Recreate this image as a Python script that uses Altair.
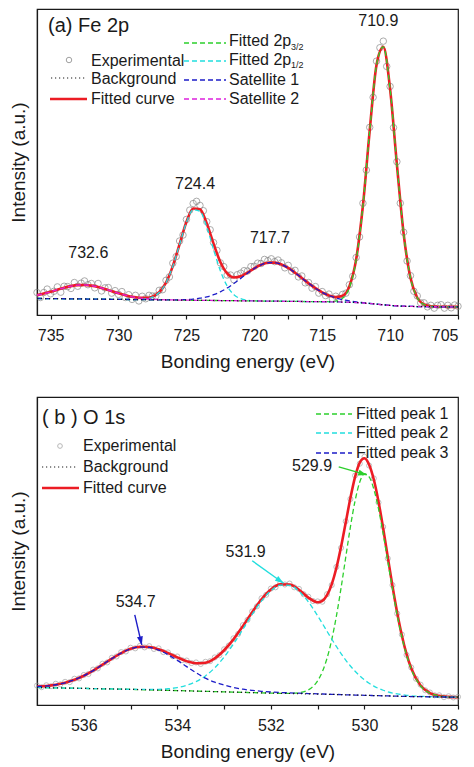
import altair as alt
import pandas as pd

FONT = "Liberation Sans"
RED = "#ec1c24"
GREEN = "#2ccf2c"
CYAN = "#22dede"
BLUE = "#1c1cc8"
MAGENTA = "#dd22dd"
INK = "#1a1a1a"

# ---------------- Panel (a) Fe 2p ----------------
EA = [736.0, 735.5, 735.0, 734.5, 734.0, 733.5, 733.0, 732.5, 732.0, 731.5,
      731.0, 730.5, 730.0, 729.5, 729.0, 728.5, 728.0, 727.5, 727.0, 726.5,
      726.0, 725.5, 725.0, 724.5, 724.0, 723.5, 723.0, 722.5, 722.0, 721.5,
      721.0, 720.5, 720.0, 719.5, 719.0, 718.5, 718.0, 717.5, 717.0, 716.5,
      716.0, 715.5, 715.0, 714.5, 714.0, 713.5, 713.0, 712.5, 712.0, 711.5,
      711.0, 710.5, 710.0, 709.5, 709.0, 708.5, 708.0, 707.5, 707.0, 706.5,
      706.0, 705.5, 705.0]

BG_A = [5.30, 5.28, 5.25, 5.23, 5.20, 5.18, 5.15, 5.13, 5.10, 5.08,
        5.05, 5.03, 5.00, 4.98, 4.95, 4.93, 4.90, 4.88, 4.85, 4.83,
        4.80, 4.78, 4.75, 4.73, 4.70, 4.68, 4.65, 4.63, 4.60, 4.58,
        4.55, 4.53, 4.50, 4.48, 4.45, 4.43, 4.40, 4.38, 4.35, 4.33,
        4.30, 4.28, 4.25, 4.23, 4.20, 4.15, 4.08, 3.98, 3.85, 3.68,
        3.48, 3.27, 3.07, 2.92, 2.82, 2.75, 2.71, 2.68, 2.66, 2.64,
        2.62, 2.61, 2.60]

FIT_A = [6.36, 6.85, 7.44, 8.10, 8.72, 9.25, 9.56, 9.63, 9.40, 8.95,
         8.32, 7.62, 6.93, 6.33, 5.84, 5.54, 5.47, 5.89, 7.28, 10.34,
         15.67, 22.68, 29.76, 34.11, 33.88, 29.33, 22.84, 16.97, 13.32, 12.03,
         12.40, 13.60, 14.96, 16.08, 16.74, 16.78, 16.19, 15.07, 13.55, 11.85,
         10.14, 8.59, 7.27, 6.27, 5.73, 6.15, 9.16, 17.81, 35.07, 59.14,
         80.08, 85.87, 72.37, 48.22, 25.92, 11.90, 5.53, 3.36, 2.79, 2.66,
         2.62, 2.61, 2.60]

P32_A = [5.30, 5.28, 5.25, 5.23, 5.20, 5.18, 5.15, 5.13, 5.10, 5.08,
         5.05, 5.03, 5.00, 4.98, 4.95, 4.93, 4.90, 4.88, 4.85, 4.83,
         4.80, 4.78, 4.75, 4.73, 4.70, 4.68, 4.65, 4.63, 4.60, 4.58,
         4.55, 4.53, 4.50, 4.48, 4.45, 4.43, 4.40, 4.38, 4.35, 4.33,
         4.30, 4.28, 4.25, 4.27, 4.46, 5.39, 8.73, 17.58, 34.95, 59.08,
         80.08, 85.87, 72.37, 48.22, 25.92, 11.90, 5.53, 3.36, 2.79, 2.66,
         2.62, 2.61, 2.60]

P12_A = [5.30, 5.28, 5.25, 5.23, 5.20, 5.18, 5.15, 5.13, 5.10, 5.08,
         5.05, 5.03, 5.00, 4.98, 4.95, 4.99, 5.15, 5.72, 7.19, 10.30,
         15.60, 22.58, 29.55, 33.73, 33.20, 28.18, 21.00, 14.18, 9.29, 6.51,
         5.22, 4.73, 4.55, 4.48, 4.45, 4.43, 4.40, 4.38, 4.35, 4.33,
         4.30, 4.28, 4.25, 4.23, 4.20, 4.15, 4.08, 3.98, 3.85, 3.68,
         3.48, 3.27, 3.07, 2.92, 2.82, 2.75, 2.71, 2.68, 2.66, 2.64,
         2.62, 2.61, 2.60]

SAT1_A = [5.30, 5.28, 5.25, 5.23, 5.20, 5.18, 5.15, 5.13, 5.10, 5.08,
          5.05, 5.03, 5.00, 4.98, 4.95, 4.93, 4.90, 4.88, 4.85, 4.83,
          4.85, 4.88, 4.96, 5.11, 5.38, 5.83, 6.49, 7.42, 8.63, 10.10,
          11.73, 13.40, 14.91, 16.08, 16.74, 16.78, 16.19, 15.07, 13.55, 11.85,
          10.14, 8.59, 7.27, 6.23, 5.47, 4.91, 4.51, 4.21, 3.97, 3.74,
          3.48, 3.27, 3.07, 2.92, 2.82, 2.75, 2.71, 2.68, 2.66, 2.64,
          2.62, 2.61, 2.60]

SAT2_A = [6.36, 6.85, 7.44, 8.10, 8.72, 9.25, 9.56, 9.63, 9.40, 8.95,
          8.32, 7.62, 6.93, 6.33, 5.84, 5.48, 5.22, 5.05, 4.94, 4.87,
          4.82, 4.78, 4.75, 4.73, 4.70, 4.68, 4.65, 4.63, 4.60, 4.58,
          4.55, 4.53, 4.50, 4.48, 4.45, 4.43, 4.40, 4.38, 4.35, 4.33,
          4.30, 4.28, 4.25, 4.23, 4.20, 4.15, 4.08, 3.98, 3.85, 3.68,
          3.48, 3.27, 3.07, 2.92, 2.82, 2.75, 2.71, 2.68, 2.66, 2.64,
          2.62, 2.61, 2.60]

EXP_EA = [736.00, 735.75, 735.50, 735.25, 735.00, 734.75, 734.50, 734.25,
          734.00, 733.75, 733.50, 733.25, 733.00, 732.75, 732.50, 732.25,
          732.00, 731.75, 731.50, 731.25, 731.00, 730.75, 730.50, 730.25,
          730.00, 729.75, 729.50, 729.25, 729.00, 728.75, 728.50, 728.25,
          728.00, 727.75, 727.50, 727.25, 727.00, 726.75, 726.50, 726.25,
          726.00, 725.75, 725.50, 725.25, 725.00, 724.75, 724.50, 724.25,
          724.00, 723.75, 723.50, 723.25, 723.00, 722.75, 722.50, 722.25,
          722.00, 721.75, 721.50, 721.25, 721.00, 720.75, 720.50, 720.25,
          720.00, 719.75, 719.50, 719.25, 719.00, 718.75, 718.50, 718.25,
          718.00, 717.75, 717.50, 717.25, 717.00, 716.75, 716.50, 716.25,
          716.00, 715.75, 715.50, 715.25, 715.00, 714.75, 714.50, 714.25,
          714.00, 713.75, 713.50, 713.25, 713.00, 712.75, 712.50, 712.25,
          712.00, 711.75, 711.50, 711.25, 711.00, 710.75, 710.50, 710.25,
          710.00, 709.75, 709.50, 709.25, 709.00, 708.75, 708.50, 708.25,
          708.00, 707.75, 707.50, 707.25, 707.00, 706.75, 706.50, 706.25,
          706.00, 705.75, 705.50, 705.25, 705.00]

EXP_A = [7.2, 5.6, 7.2, 8.3, 6.8, 7.6, 9.0, 7.3,
         9.2, 9.1, 8.5, 10.4, 9.2, 10.2, 10.9, 9.7,
         10.1, 8.7, 10.1, 7.7, 8.7, 8.8, 7.0, 7.8,
         6.6, 7.5, 5.6, 6.5, 5.0, 6.3, 4.5, 6.0,
         5.2, 6.3, 6.1, 6.1, 7.9, 8.1, 11.1, 12.2,
         16.6, 18.7, 23.7, 25.6, 30.6, 33.6, 35.7, 36.4,
         35.1, 33.4, 29.9, 27.3, 23.2, 20.7, 16.7, 15.5,
         12.8, 12.8, 11.3, 12.9, 13.4, 14.2, 14.1, 15.5,
         15.6, 16.6, 16.5, 17.8, 17.4, 18.0, 17.1, 17.6,
         16.7, 15.1, 15.9, 14.0, 14.3, 12.2, 12.5, 10.3,
         10.4, 8.6, 9.1, 7.0, 7.5, 6.2, 6.7, 5.2,
         6.0, 5.3, 6.6, 7.0, 9.7, 12.4, 18.4, 25.0,
         35.8, 46.4, 60.1, 69.7, 81.3, 85.6, 87.7, 79.6,
         73.2, 60.0, 49.1, 35.8, 26.5, 17.3, 12.6, 7.6,
         6.1, 3.9, 3.9, 2.6, 3.1, 2.2, 3.1, 3.3,
         2.2, 3.1, 2.3, 3.2, 2.8]

LAB_A = ["732.6", "724.4", "717.7", "710.9"]
LAB_A_E = [732.22, 724.36, 718.85, 710.87]
LAB_A_V = [20.0, 41.9, 24.6, 94.2]
TICKS_A = [735, 732.5, 730, 727.5, 725, 722.5, 720, 717.5, 715, 712.5, 710, 707.5, 705]

# ---------------- Panel (b) O 1s ----------------
EB = [537.0, 536.8, 536.6, 536.4, 536.2, 536.0, 535.8, 535.6, 535.4, 535.2,
      535.0, 534.8, 534.6, 534.4, 534.2, 534.0, 533.8, 533.6, 533.4, 533.2,
      533.0, 532.8, 532.6, 532.4, 532.2, 532.0, 531.8, 531.6, 531.4, 531.2,
      531.0, 530.9, 530.8, 530.7, 530.6, 530.5, 530.4, 530.3, 530.2, 530.1,
      530.0, 529.9, 529.8, 529.7, 529.6, 529.5, 529.4, 529.3, 529.2, 529.1,
      529.0, 528.8, 528.6, 528.4, 528.2, 528.0]

BG_B = [5.60, 5.54, 5.48, 5.42, 5.36, 5.30, 5.24, 5.18, 5.12, 5.06,
        5.00, 4.92, 4.84, 4.76, 4.68, 4.60, 4.52, 4.44, 4.36, 4.28,
        4.20, 4.12, 4.04, 3.96, 3.88, 3.80, 3.74, 3.68, 3.62, 3.56,
        3.50, 3.46, 3.42, 3.38, 3.34, 3.30, 3.26, 3.22, 3.18, 3.14,
        3.10, 3.06, 3.02, 2.98, 2.94, 2.90, 2.86, 2.82, 2.78, 2.74,
        2.70, 2.66, 2.62, 2.58, 2.54, 2.50]

FIT_B = [5.89, 6.09, 6.47, 7.10, 8.05, 9.35, 11.00, 12.88, 14.83, 16.60,
         17.94, 18.60, 18.53, 17.79, 16.60, 15.22, 14.02, 13.34, 13.51, 14.88,
         17.50, 20.98, 25.16, 29.64, 33.78, 36.90, 38.55, 38.50, 36.82, 34.32,
         32.81, 33.28, 35.08, 38.55, 43.77, 50.54, 58.30, 66.14, 72.87, 77.41,
         78.81, 76.77, 72.04, 65.04, 56.47, 47.16, 37.95, 29.49, 22.20, 16.28,
         11.76, 6.23, 3.81, 2.91, 2.61, 2.50]

PK1_B = [5.60, 5.54, 5.48, 5.42, 5.36, 5.30, 5.24, 5.18, 5.12, 5.06,
         5.00, 4.92, 4.84, 4.76, 4.68, 4.60, 4.52, 4.44, 4.36, 4.28,
         4.20, 4.12, 4.04, 3.96, 3.88, 3.80, 3.74, 3.74, 3.92, 4.82,
         7.75, 10.64, 14.91, 20.81, 28.38, 37.38, 47.20, 56.89, 65.27, 71.24,
         73.88, 72.88, 69.01, 62.71, 54.70, 45.84, 36.98, 28.78, 21.69, 15.92,
         11.51, 6.11, 3.76, 2.89, 2.61, 2.50]

PK2_B = [5.60, 5.54, 5.48, 5.42, 5.36, 5.30, 5.24, 5.18, 5.12, 5.06,
         5.02, 4.97, 4.96, 5.01, 5.19, 5.57, 6.29, 7.47, 9.29, 11.88,
         15.30, 19.48, 24.16, 28.94, 33.28, 36.55, 38.30, 38.24, 36.37, 32.96,
         28.48, 26.04, 23.54, 21.08, 18.70, 16.44, 14.36, 12.47, 10.78, 9.31,
         8.03, 6.95, 6.05, 5.31, 4.71, 4.22, 3.83, 3.53, 3.29, 3.10,
         2.95, 2.78, 2.67, 2.60, 2.54, 2.50]

PK3_B = [5.89, 6.09, 6.47, 7.10, 8.05, 9.35, 11.00, 12.88, 14.83, 16.60,
         17.92, 18.55, 18.41, 17.54, 16.09, 14.25, 12.25, 10.31, 8.58, 7.28,
         6.40, 5.62, 5.04, 4.66, 4.38, 4.15, 3.99, 3.88, 3.77, 3.66,
         3.58, 3.52, 3.47, 3.42, 3.37, 3.32, 3.26, 3.22, 3.18, 3.14,
         3.10, 3.06, 3.02, 2.98, 2.94, 2.90, 2.86, 2.82, 2.78, 2.74,
         2.70, 2.66, 2.62, 2.58, 2.54, 2.50]

EXP_EB = [537.0, 536.9, 536.8, 536.7, 536.6, 536.5, 536.4, 536.3, 536.2, 536.1,
          536.0, 535.9, 535.8, 535.7, 535.6, 535.5, 535.4, 535.3, 535.2, 535.1,
          535.0, 534.9, 534.8, 534.7, 534.6, 534.5, 534.4, 534.3, 534.2, 534.1,
          534.0, 533.9, 533.8, 533.7, 533.6, 533.5, 533.4, 533.3, 533.2, 533.1,
          533.0, 532.9, 532.8, 532.7, 532.6, 532.5, 532.4, 532.3, 532.2, 532.1,
          532.0, 531.9, 531.8, 531.7, 531.6, 531.5, 531.4, 531.3, 531.2, 531.1,
          531.0, 530.9, 530.8, 530.7, 530.6, 530.5, 530.4, 530.3, 530.2, 530.1,
          530.0, 529.9, 529.8, 529.7, 529.6, 529.5, 529.4, 529.3, 529.2, 529.1,
          529.0, 528.9, 528.8, 528.7, 528.6, 528.5, 528.4, 528.3, 528.2, 528.1,
          528.0]

EXP_B = [6.2, 5.7, 6.3, 6.0, 6.8, 6.6, 7.4, 7.3, 8.4, 8.5,
         9.6, 9.9, 11.3, 11.7, 13.2, 13.6, 15.1, 15.5, 16.9, 17.1,
         18.3, 18.1, 18.9, 18.4, 18.8, 17.9, 18.1, 16.9, 16.8, 15.6,
         15.5, 14.3, 14.2, 13.4, 13.6, 13.1, 13.8, 14.0, 15.2, 15.9,
         17.8, 19.0, 21.3, 22.7, 25.5, 27.2, 29.9, 31.5, 34.1, 35.2,
         37.2, 37.6, 38.9, 38.5, 38.8, 37.6, 37.1, 35.4, 34.6, 33.2,
         33.1, 33.0, 35.4, 38.3, 44.1, 50.2, 58.7, 65.8, 73.3, 77.1,
         79.3, 76.5, 72.4, 64.7, 56.9, 46.8, 38.3, 29.2, 22.5, 16.0,
         12.0, 8.4, 6.5, 4.7, 4.0, 3.1, 3.1, 2.5, 2.8, 2.4,
         2.6]

LAB_B = ["534.7", "531.9", "529.9"]
LAB_B_E = [534.89, 532.54, 531.12]
LAB_B_V = [33.0, 49.0, 76.5]
ARR_E0 = [534.91, 532.40, 530.55]
ARR_V0 = [28.8, 46.1, 76.1]
ARR_E1 = [534.76, 531.73, 529.95]
ARR_V1 = [19.2, 38.9, 73.5]
TICKS_B = [536, 535, 534, 533, 532, 531, 530, 529, 528]

ARROW_PATH = "M0,0L0.6,1.7L-0.6,1.7Z"


def make_xy(domain_x, ticks, major_mod, domain_y):
    x = alt.X("E:Q",
              scale=alt.Scale(domain=domain_x, nice=False, zero=False),
              axis=alt.Axis(values=ticks,
                            labelExpr=f"datum.value % {major_mod} == 0 ? format(datum.value, 'd') : ''",
                            title="Bonding energy (eV)"))
    y = alt.Y("v:Q",
              scale=alt.Scale(domain=domain_y, nice=False, zero=False),
              axis=alt.Axis(title="Intensity (a.u.)", labels=False, ticks=False,
                            titlePadding=9, titleFontSize=19))
    return x, y


def curve(E, V, X, Y, color, width, dash=None):
    kw = dict(color=color, strokeWidth=width, interpolate="monotone")
    if dash:
        kw["strokeDash"] = dash
    return alt.Chart(pd.DataFrame({"E": E, "v": V})).mark_line(**kw).encode(x=X, y=Y)


def points(E, V, X, Y, color, size, width):
    return alt.Chart(pd.DataFrame({"E": E, "v": V})).mark_point(
        shape="circle", filled=False, color=color, size=size, strokeWidth=width
    ).encode(x=X, y=Y)


def leg_rule(x1, x2, y, color, width, dash=None):
    kw = dict(color=color, strokeWidth=width)
    if dash:
        kw["strokeDash"] = dash
    return alt.Chart(pd.DataFrame({"k": [0]})).mark_rule(**kw).encode(
        x=alt.value(x1), x2=alt.value(x2), y=alt.value(y))


def leg_text(txt, x, y, size=16):
    return alt.Chart(pd.DataFrame({"t": [txt]})).mark_text(
        align="left", baseline="middle", font=FONT, fontSize=size, color=INK
    ).encode(x=alt.value(x), y=alt.value(y), text="t:N")


def leg_circle(x, y, color, size):
    return alt.Chart(pd.DataFrame({"k": [0]})).mark_point(
        shape="circle", filled=False, color=color, size=size, strokeWidth=1
    ).encode(x=alt.value(x), y=alt.value(y))


DASH = [5, 3]
DOT = [1.2, 2.8]

# ----- panel a -----
XA, YA = make_xy([736, 705], TICKS_A, 5, [0, 98])
lab_a = alt.Chart(pd.DataFrame({"E": LAB_A_E, "v": LAB_A_V, "t": LAB_A})).mark_text(
    font=FONT, fontSize=16, color=INK, align="center", baseline="middle"
).encode(x=XA, y=YA, text="t:N")

panel_a = alt.layer(
    points(EXP_EA, EXP_A, XA, YA, "#7a7a7a", 42, 0.9),
    curve(EA, FIT_A, XA, YA, RED, 2.6),
    curve(EA, P32_A, XA, YA, GREEN, 1.3, DASH),
    curve(EA, P12_A, XA, YA, CYAN, 1.3, DASH),
    curve(EA, SAT1_A, XA, YA, BLUE, 1.3, DASH),
    curve(EA, SAT2_A, XA, YA, MAGENTA, 1.3, DASH),
    curve(EA, BG_A, XA, YA, INK, 1.2, DOT),
    lab_a,
    leg_text("(a) Fe 2p", 11, 17, 20),
    leg_circle(32, 51, "#7a7a7a", 30),
    leg_text("Experimental", 54, 52),
    leg_rule(14, 49, 69, INK, 1.2, DOT),
    leg_text("Background", 54, 70),
    leg_rule(13, 50, 90, RED, 2.6),
    leg_text("Fitted curve", 54, 90),
    leg_rule(147, 189, 34, GREEN, 1.3, DASH),
    leg_text("Fitted 2p", 192, 32),
    leg_text("3/2", 254, 38, 9),
    leg_rule(147, 189, 52, CYAN, 1.3, DASH),
    leg_text("Fitted 2p", 192, 51),
    leg_text("1/2", 254, 56, 9),
    leg_rule(147, 189, 71, BLUE, 1.3, DASH),
    leg_text("Satellite 1", 192, 71),
    leg_rule(147, 189, 90, MAGENTA, 1.3, DASH),
    leg_text("Satellite 2", 192, 90),
).properties(width=421, height=306)

# ----- panel b -----
XB, YB = make_xy([537, 528], TICKS_B, 2, [0, 98.4])
lab_b = alt.Chart(pd.DataFrame({"E": LAB_B_E, "v": LAB_B_V, "t": LAB_B})).mark_text(
    font=FONT, fontSize=16, color=INK, align="center", baseline="middle"
).encode(x=XB, y=YB, text="t:N")

arrow_layers = []
for i, (col, ang) in enumerate([(BLUE, 167), (CYAN, 125), (GREEN, 106)]):
    df = pd.DataFrame({"E": [ARR_E0[i]], "v": [ARR_V0[i]], "E2": [ARR_E1[i]], "v2": [ARR_V1[i]]})
    arrow_layers.append(alt.Chart(df).mark_rule(color=col, strokeWidth=1.4).encode(
        x=XB, y=YB, x2="E2:Q", y2="v2:Q"))
    dft = pd.DataFrame({"E": [ARR_E1[i]], "v": [ARR_V1[i]]})
    arrow_layers.append(alt.Chart(dft).mark_point(
        shape=ARROW_PATH, filled=True, color=col, size=100, angle=ang, opacity=1
    ).encode(x=XB, y=YB))

panel_b = alt.layer(
    points(EXP_EB, EXP_B, XB, YB, "#9a9a9a", 26, 0.9),
    curve(EB, FIT_B, XB, YB, RED, 2.6),
    curve(EB, PK1_B, XB, YB, GREEN, 1.3, DASH),
    curve(EB, PK2_B, XB, YB, CYAN, 1.3, DASH),
    curve(EB, PK3_B, XB, YB, BLUE, 1.3, DASH),
    curve(EB, BG_B, XB, YB, INK, 1.2, DOT),
    lab_b,
    *arrow_layers,
    leg_text("( b ) O 1s", 5, 21, 20),
    leg_circle(23, 49, "#9a9a9a", 22),
    leg_text("Experimental", 46, 49),
    leg_rule(5, 39, 70, INK, 1.2, DOT),
    leg_text("Background", 46, 70),
    leg_rule(5, 42, 91, RED, 2.6),
    leg_text("Fitted curve", 46, 91),
    leg_rule(279, 315, 17, GREEN, 1.3, DASH),
    leg_text("Fitted peak 1", 319, 17),
    leg_rule(279, 315, 36, CYAN, 1.3, DASH),
    leg_text("Fitted peak 2", 319, 36),
    leg_rule(279, 315, 56, BLUE, 1.3, DASH),
    leg_text("Fitted peak 3", 319, 56),
).properties(width=421, height=308)

chart = alt.vconcat(panel_a, panel_b, spacing=24).properties(
    padding={"left": 0, "top": 0, "right": 0, "bottom": 0},
    background="white",
).configure_view(
    stroke=INK, strokeWidth=1.2
).configure_axis(
    domainColor=INK, domainWidth=1.2, tickColor=INK, tickWidth=1.2, tickSize=4,
    labelFont=FONT, titleFont=FONT, labelFontSize=16, titleFontSize=19,
    titleFontWeight="normal", labelColor=INK, titleColor=INK,
    labelPadding=8, titlePadding=9, grid=False,
)

chart.save("out.html", embed_options={"renderer": "svg", "actions": False})
